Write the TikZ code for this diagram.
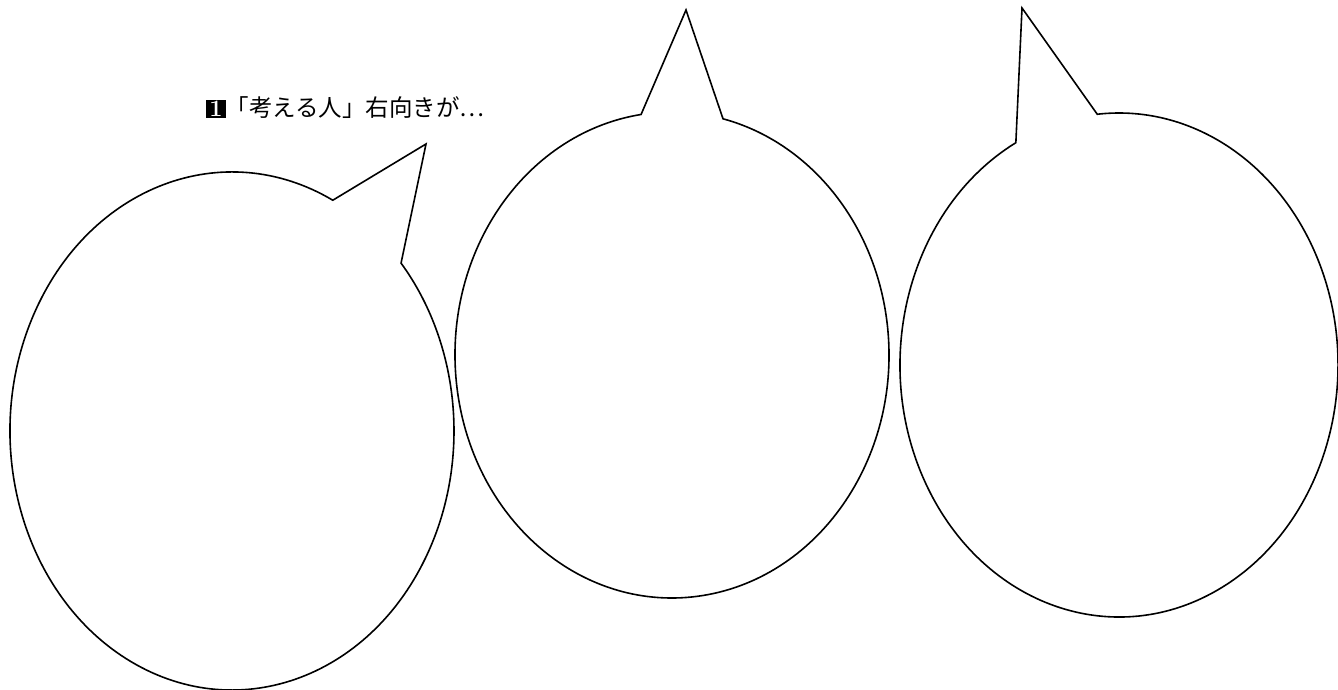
\documentclass[tikz,border=0pt]{standalone}
\usepackage{xcolor}
\usepackage{fontspec}
\usepackage{tikz}
\usetikzlibrary{positioning}
\newfontfamily\jpfont{Noto Sans CJK JP}

\begin{document}
\begin{tikzpicture}[
    x=1pt, y=1pt,
    bubble/.style={draw=black, line width=1.6pt, line join=miter},
    caption/.style={anchor=west, inner sep=0pt, font=\jpfont\fontsize{23.5}{28}\selectfont}
  ]
    \useasboundingbox (0,0) rectangle (1338,690);
    % centres and tail tips
    \coordinate (c1) at (232,259);
    \coordinate (c2) at (672,335);
    \coordinate (c3) at (1119,325);
    \coordinate (t1) at (426,546);
    \coordinate (t2) at (686,680);
    \coordinate (t3) at (1022,682);
    \node[caption] (title) at (206,582)
      {{\setlength{\fboxsep}{1.2pt}\colorbox{black}{\makebox[17pt][c]{\textcolor{white}{\rmfamily\bfseries 1}}}}「考える人」右向きが…};
    \draw[bubble] (c1) ++(63:222pt and 259pt)
      arc[start angle=63, end angle=400.4, x radius=222pt, y radius=259pt] -- (t1) -- cycle;
    \draw[bubble] (c2) ++(98.2:217pt and 243pt)
      arc[start angle=98.2, end angle=436.4, x radius=217pt, y radius=243pt] -- (t2) -- cycle;
    \draw[bubble] (c3) ++(118.1:219pt and 252pt)
      arc[start angle=118.1, end angle=455.7, x radius=219pt, y radius=252pt] -- (t3) -- cycle;
  \end{tikzpicture}
\end{document}
